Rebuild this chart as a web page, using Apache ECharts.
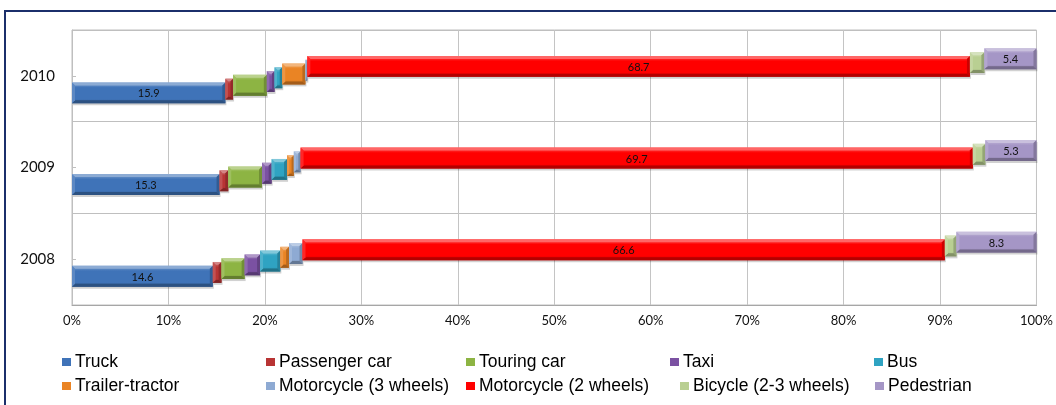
<!DOCTYPE html>
<html>
<head>
<meta charset="utf-8">
<script src="https://cdn.jsdelivr.net/npm/echarts@6/dist/echarts.min.js"></script>
<style>
html,body{margin:0;padding:0;background:#fff;overflow:hidden;}
#chart{width:1056px;height:405px;}
</style>
</head>
<body>
<div id="chart"></div>
<script>
// ---- data (shares in %, by year) ----
const years = ['2008', '2009', '2010'];
const xTicks = [0, 10, 20, 30, 40, 50, 60, 70, 80, 90, 100];
const seriesNames = ['Truck', 'Passenger car', 'Touring car', 'Taxi', 'Bus',
  'Trailer-tractor', 'Motorcycle (3 wheels)', 'Motorcycle (2 wheels)', 'Bicycle (2-3 wheels)', 'Pedestrian'];
const truck          = [14.6, 15.3, 15.9];
const passengerCar   = [0.9, 0.9, 0.8];
const touringCar     = [2.4, 3.5, 3.5];
const taxi           = [1.6, 1.0, 0.8];
const bus            = [2.1, 1.6, 0.8];
const trailerTractor = [0.9, 0.7, 2.4];
const motorcycle3    = [1.4, 0.7, 0.2];
const motorcycle2    = [66.6, 69.7, 68.7];
const bicycle        = [1.2, 1.3, 1.5];
const pedestrian     = [8.3, 5.3, 5.4];
const labeledSeries  = ['Truck', 'Motorcycle (2 wheels)', 'Pedestrian'];

const allValues = [truck, passengerCar, touringCar, taxi, bus, trailerTractor, motorcycle3, motorcycle2, bicycle, pedestrian];
const colors = ['#3f73b8', '#b83434', '#8db443', '#7b51a2', '#2fa3c2', '#ea8424', '#8eaad3', '#ff0000', '#b9cf92', '#a596c6'];

// legend positions [left, top]
const legendPos = [[62, 352], [266, 352], [466, 352], [670, 352], [874, 352],
                   [62, 376], [266, 376], [466, 376], [680, 376], [875, 376]];

function hexToRgb(h) { h = h.replace('#', ''); return [parseInt(h.substr(0,2),16), parseInt(h.substr(2,2),16), parseInt(h.substr(4,2),16)]; }
function mix(c, t, a) { const r = hexToRgb(c); const tv = t === 'w' ? 255 : 0; return 'rgb(' + r.map(v => Math.round(v + (tv - v) * a)).join(',') + ')'; }

const chart = echarts.init(document.getElementById('chart'), null, {renderer: 'canvas', width: 1056, height: 405});

function makeRender(si) {
  const col = colors[si];
  const showLabel = labeledSeries.indexOf(seriesNames[si]) >= 0;
  return function (params, api) {
    const cat = api.value(0), val = api.value(1), start = api.value(2);
    const p0 = api.coord([start, cat]);
    const p1 = api.coord([start + val, cat]);
    const band = api.size([0, 1])[1];
    const h = band * 0.228, step = band * 0.0413;
    const ext = h + 9 * step;
    const top = p0[1] + ext / 2 - h - si * step;
    const x0 = p0[0], x1 = p1[0], w = x1 - x0;
    const b = Math.min(3, w / 3);
    const children = [
      {type: 'rect', shape: {x: x0 + 1, y: top + 2, width: w, height: h}, style: {fill: 'rgba(0,0,0,0.18)'}},
      {type: 'rect', shape: {x: x0, y: top, width: w, height: h}, style: {fill: new echarts.graphic.LinearGradient(0, 0, 0, 1, [
        {offset: 0, color: mix(col, 'w', 0.35)}, {offset: 0.25, color: col}, {offset: 0.8, color: col}, {offset: 1, color: mix(col, 'k', 0.25)}])}},
      {type: 'polygon', shape: {points: [[x0, top], [x1, top], [x1 - b, top + b], [x0 + b, top + b]]}, style: {fill: mix(col, 'w', 0.4)}},
      {type: 'polygon', shape: {points: [[x1, top], [x1, top + h], [x1 - b, top + h - b], [x1 - b, top + b]]}, style: {fill: mix(col, 'k', 0.2)}},
      {type: 'polygon', shape: {points: [[x0, top + h], [x1, top + h], [x1 - b, top + h - b], [x0 + b, top + h - b]]}, style: {fill: mix(col, 'k', 0.3)}},
      {type: 'polygon', shape: {points: [[x0, top], [x0 + b, top + b], [x0 + b, top + h - b], [x0, top + h]]}, style: {fill: mix(col, 'w', 0.15)}}
    ];
    if (showLabel) {
      children.push({type: 'text', x: (x0 + x1) / 2, y: top + h / 2 + 1, style: {
        text: String(val), fill: '#111', font: '11px Lato', align: 'center', verticalAlign: 'middle'}});
    }
    return {type: 'group', children: children};
  };
}

const series = allValues.map(function (vals, si) {
  const data = years.map(function (y, k) {
    let cum = 0;
    for (let j = 0; j < si; j++) cum += allValues[j][k];
    return [k, vals[k], cum];
  });
  return {
    type: 'custom', name: seriesNames[si], renderItem: makeRender(si),
    itemStyle: {color: colors[si]},
    encode: {x: [1, 2], y: 0}, data: data, z: 3
  };
});

const legends = seriesNames.map(function (n, i) {
  return {
    data: [n], left: legendPos[i][0], top: legendPos[i][1], orient: 'horizontal',
    icon: 'rect', itemWidth: 9, itemHeight: 8, itemGap: 5, padding: 0,
    textStyle: {fontFamily: 'Liberation Sans', fontSize: 17.5, lineHeight: 20, color: '#000', padding: [0, 0, 0, -1]},
    selectedMode: false
  };
});

chart.setOption({
  animation: false,
  backgroundColor: '#fff',
  graphic: [{type: 'rect', shape: {x: 5, y: 11, width: 1200, height: 600}, style: {fill: null, stroke: '#1b2f6b', lineWidth: 2}, silent: true}],
  grid: {left: 72, width: 968, top: 30, height: 275, show: true, borderColor: '#bfbfbf', borderWidth: 1},
  legend: legends,
  xAxis: {
    type: 'value', min: xTicks[0], max: xTicks[xTicks.length - 1], interval: xTicks[1] - xTicks[0],
    axisLine: {show: true, lineStyle: {color: '#a6a6a6'}},
    axisTick: {show: false},
    splitLine: {show: true, lineStyle: {color: '#c4c4c4'}},
    axisLabel: {formatter: '{value}%', fontFamily: 'Lato', fontSize: 13, color: '#111', margin: 9}
  },
  yAxis: {
    type: 'category', data: years,
    axisLine: {show: true, lineStyle: {color: '#bfbfbf'}},
    axisTick: {show: true, inside: true, alignWithLabel: true, length: 4, lineStyle: {color: '#bfbfbf'}},
    splitLine: {show: true, lineStyle: {color: '#bfbfbf'}},
    axisLabel: {fontFamily: 'Lato', fontSize: 15, color: '#111', margin: 17}
  },
  series: series
});
</script>
</body>
</html>
